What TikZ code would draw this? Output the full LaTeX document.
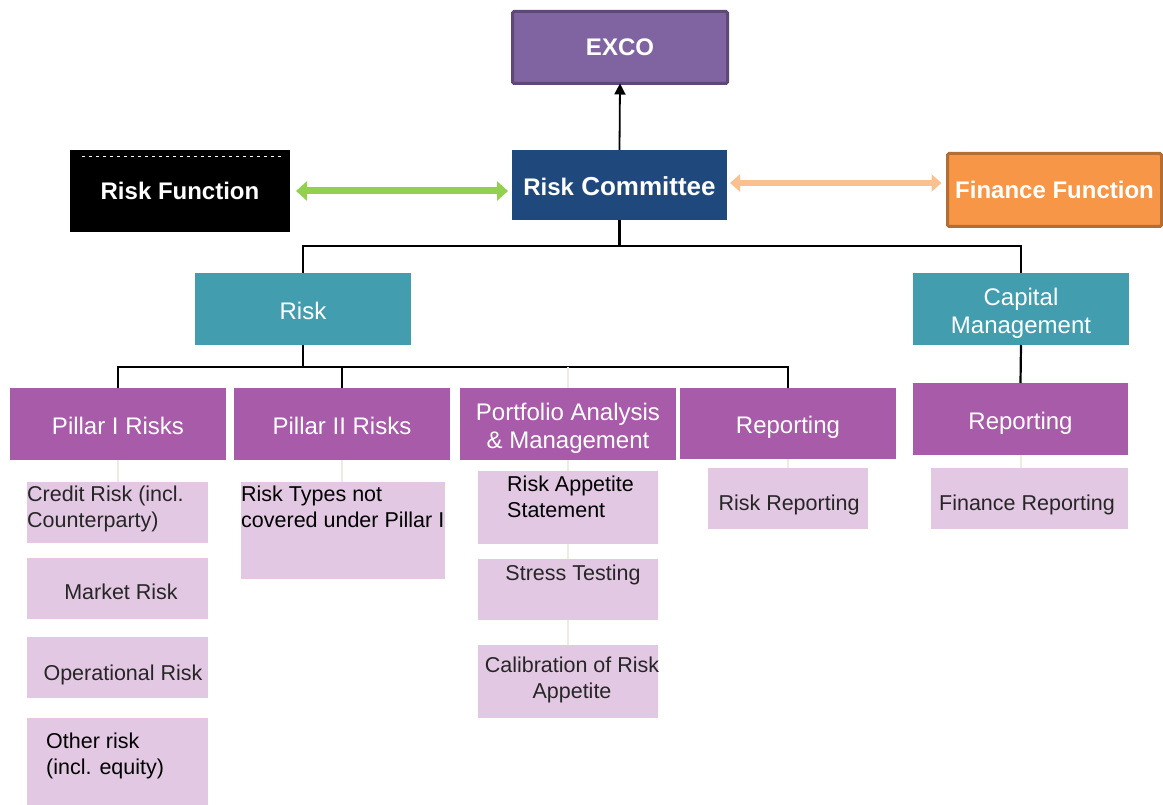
\documentclass[tikz,border=0pt]{standalone}
\usepackage{fontspec}
\setmainfont{Liberation Sans}
\usetikzlibrary{arrows.meta}
\definecolor{excof}{HTML}{8064A2}
\definecolor{excob}{HTML}{5E4878}
\definecolor{rcf}{HTML}{1F497D}
\definecolor{fff}{HTML}{F79646}
\definecolor{ffb}{HTML}{B66D31}
\definecolor{tealc}{HTML}{429EAF}
\definecolor{purp}{HTML}{A85BA8}
\definecolor{leafc}{HTML}{E3C8E3}
\definecolor{leaftxt}{HTML}{262626}
\definecolor{greenc}{HTML}{92D050}
\definecolor{orangec}{HTML}{FAC090}
\definecolor{creamc}{HTML}{EEECE1}
\newcommand\dn[2]{\raisebox{-#1pt}[\height][\depth]{#2}}
\begin{document}
\begin{tikzpicture}[x=1pt,y=-1pt,
  box/.style={rectangle, inner sep=0pt, outer sep=0pt, anchor=north west, align=center},
  hfont/.style={font=\fontsize{24}{28}\selectfont, text=white},
  hdr/.style={box, fill=purp, hfont, minimum width=216pt, minimum height=72pt},
  tealbox/.style={box, fill=tealc, hfont, minimum width=216pt, minimum height=72pt},
  leaf/.style={box, fill=leafc, text=leaftxt, font=\fontsize{21.5}{26}\selectfont},
  ltxt/.style={inner sep=0pt, anchor=west, align=left, font=\fontsize{21.5}{26}\selectfont},
  bus/.style={draw=black, line width=2.2pt},
  faint/.style={draw=creamc, line width=2pt},
  topfont/.style={font=\bfseries\fontsize{24}{28}\selectfont, text=white}
]
\useasboundingbox (0,0) rectangle (1163,805);

% top level
\node[box, fill=excof, draw=excob, line width=3pt, rounded corners=1.5pt,
      minimum width=215pt, minimum height=72pt, topfont] (exco) at (512.5,11.5) {EXCO};
\node[box, fill=rcf, minimum width=215pt, minimum height=70pt, text=white, font=\bfseries] (rc) at (512,150)
  {\dn{1}{\fontsize{24}{28}\selectfont Risk\fontsize{26}{28}\selectfont\ Committee}};
\node[box, fill=black, minimum width=220pt, minimum height=82pt, topfont] (rf) at (70,150) {Risk Function};
\draw[white, line width=1pt, dash pattern=on 3pt off 4pt]
  ([xshift=12pt,yshift=-7pt]rf.north west) -- ([xshift=-8pt,yshift=-7pt]rf.north east);
\node[box, fill=fff, draw=ffb, line width=3pt, rounded corners=1.5pt,
      minimum width=214pt, minimum height=73pt, topfont] (ff) at (947.5,153.5) {Finance Function};

% second level
\node[tealbox] (risk) at (195,273) {\dn{2}{Risk}};
\node[tealbox] (cm) at (913,273) {};
\node[hfont, inner sep=0pt, align=center] at (1021,313) {Capital\\Management};

% third level
\node[hdr] (p1) at (10,388) {\dn{2}{Pillar I Risks}};
\node[hdr] (p2) at (234,388) {\dn{2}{Pillar II Risks}};
\node[hdr] (pam) at (460,388) {};
\node[hfont, inner sep=0pt, align=center] at (568,428) {Portfolio Analysis\\\& Management};
\node[hdr, minimum height=71pt] (rep) at (680,388) {\dn{4}{Reporting}};
\node[hdr, minimum width=215pt] (cmrep) at (913,383) {\dn{4}{Reporting}};

% leaves
\node[leaf, minimum width=181pt, minimum height=61pt] (credit) at (27,482) {};
\node[ltxt, text=leaftxt] at (27,508.5) {Credit Risk (incl.\\Counterparty)};
\node[leaf, minimum width=181pt, minimum height=61pt] (market) at (27,558) {\dn{3}{\hspace*{7pt}Market Risk}};
\node[leaf, minimum width=181pt, minimum height=61pt] (oper) at (27,637) {\dn{7}{\hspace*{11pt}Operational Risk}};
\node[leaf, minimum width=181pt, minimum height=87pt] (other) at (27,718) {};
\node[ltxt, text=black] at (46,756) {Other risk\\(incl. equity)};

\node[leaf, minimum width=204pt, minimum height=97pt] (rtypes) at (241,482) {};
\node[ltxt, text=black] at (241,507) {Risk Types not\\covered under Pillar I};

\node[leaf, minimum width=180pt, minimum height=73pt] (ras) at (478,471) {};
\node[ltxt, text=black] at (507,497) {Risk Appetite\\Statement};
\node[leaf, minimum width=180pt, minimum height=61pt] (stress) at (478,559) {};
\node[ltxt, text=leaftxt, anchor=center] at (573,575) {Stress Testing};
\node[leaf, minimum width=180pt, minimum height=73pt] (calib) at (478,645) {};
\node[ltxt, text=leaftxt, anchor=center, align=center] at (572,680) {Calibration of Risk\\Appetite};

\node[leaf, minimum width=160pt, minimum height=61pt] (rrep) at (708,468) {\dn{6}{\hspace*{2pt}Risk Reporting}};
\node[leaf, minimum width=197pt, minimum height=61pt] (frep) at (931,468) {\dn{6}{\hspace*{-5pt}Finance Reporting}};

% connectors
\coordinate (bus0) at (rc.south |- 0,246);
\coordinate (bus1) at (risk.south |- 0,367);
\draw[-{Triangle[width=11pt,length=11pt]}, line width=1.8pt] (rc.north) -- (exco.south);
\draw[greenc, line width=7pt, {Triangle[width=19pt,length=11pt]}-{Triangle[width=19pt,length=11pt]}]
  ([xshift=6pt]rf.east) -- ([xshift=-4pt]rc.west |- rf.east);
\draw[orangec, line width=6pt, {Triangle[width=17pt,length=10pt]}-{Triangle[width=17pt,length=10pt]}]
  ([xshift=3pt,yshift=2pt]rc.east) -- ([xshift=-6pt,yshift=2pt]ff.west |- rc.east);

\draw[bus] (rc.south) -- (bus0) -| (risk.north);
\draw[bus] (bus0) -| (cm.north);
\draw[bus] (risk.south) -- (bus1) -| (p1.north);
\draw[bus] (bus1) -| (p2.north);
\draw[bus] (bus1) -| (rep.north);
\draw[faint] (pam.north |- bus1) -- (pam.north);
\draw[bus] (cm.south) -- (cmrep.north);

\draw[faint] (p1.south) -- (p1.south |- credit.north);
\draw[faint] (p2.south) -- (p2.south |- rtypes.north);
\draw[faint] (pam.south) -- (pam.south |- ras.north);
\draw[faint] (ras.south) -- (stress.north);
\draw[faint] (stress.south) -- (calib.north);
\draw[faint] (rep.south) -- (rep.south |- rrep.north);
\draw[faint] (cmrep.south) -- (cmrep.south |- frep.north);
\end{tikzpicture}
\end{document}
